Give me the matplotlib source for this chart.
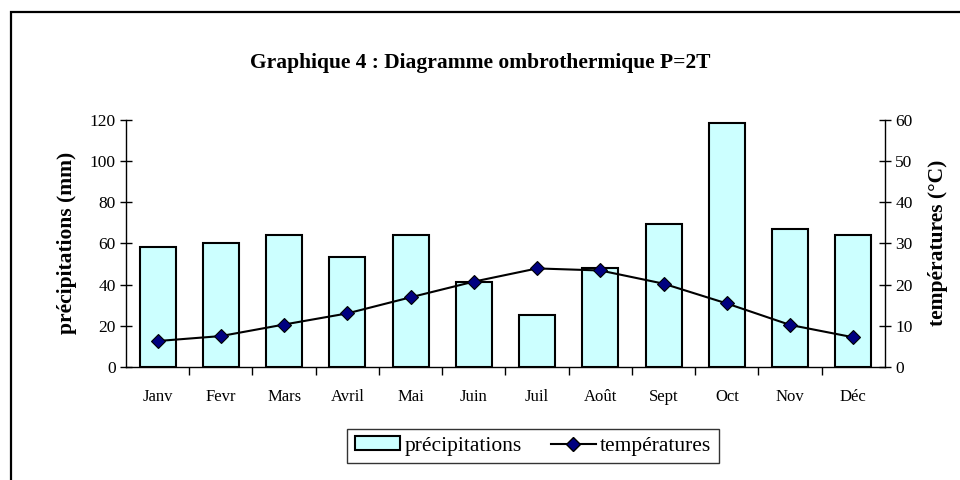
import numpy as np
import matplotlib
matplotlib.use("Agg")
import matplotlib.pyplot as plt
from matplotlib.lines import Line2D
from matplotlib.patches import Rectangle

plt.rcParams["font.family"] = ["Liberation Serif", "DejaVu Serif"]

MONTHS = ["Janv", "Fevr", "Mars", "Avril", "Mai", "Juin",
          "Juil", "Août", "Sept", "Oct", "Nov", "Déc"]
PRECIP = [58, 60, 64, 53.5, 64, 41, 25, 48, 69.5, 118.5, 67, 64]
TEMP = [6.3, 7.5, 10.3, 13.0, 16.9, 20.7, 23.9, 23.4, 20.2, 15.4, 10.2, 7.2]

fig = plt.figure(figsize=(9.6, 4.8), dpi=100, facecolor="white")

# cadre extérieur (haut + gauche visibles)
fig.add_artist(Rectangle((11 / 960, -0.1), 1.2, 1 - 12 / 480 + 0.1,
                         transform=fig.transFigure, fill=False,
                         edgecolor="black", linewidth=1.6))

ax = fig.add_axes([0.13125, 0.2354, 0.7906, 0.5156])
x = np.arange(len(MONTHS))
ax.bar(x, PRECIP, width=0.57, color="#CCFFFF", edgecolor="black",
       linewidth=1.5, zorder=2)
ax.set_xlim(-0.5, len(MONTHS) - 0.5)
ax.set_ylim(0, 120)
ax.set_yticks(range(0, 121, 20))
ax.set_xticks(x)
ax.set_xticklabels(MONTHS, fontsize=12)
ax.set_xticks(np.arange(0.5, len(MONTHS) - 0.5, 1), minor=True)
ax.tick_params(axis="x", which="major", length=0, pad=16)
ax.tick_params(axis="x", which="minor", length=6, direction="out", width=1)
ax.tick_params(axis="y", direction="inout", length=8, width=1, labelsize=12.5)
ax.spines["top"].set_visible(False)
ax.spines["right"].set_visible(False)
for sp in ("left", "bottom"):
    ax.spines[sp].set_linewidth(1)
ax.set_ylabel("précipitations (mm)", fontsize=15.5, fontweight="bold", labelpad=9)

ax2 = ax.twinx()
ax2.plot(x, TEMP, color="black", linewidth=1.5, marker="D", markersize=7,
         markerfacecolor="#000080", markeredgecolor="black", markeredgewidth=0.8,
         zorder=3)
ax2.set_ylim(0, 60)
ax2.set_yticks(range(0, 61, 10))
ax2.tick_params(axis="y", direction="inout", length=8, width=1, labelsize=12.5)
ax2.spines["top"].set_visible(False)
ax2.spines["left"].set_visible(False)
ax2.spines["bottom"].set_visible(False)
ax2.spines["right"].set_linewidth(1)
ax2.set_ylabel("températures (°C)", fontsize=15.5, fontweight="bold", labelpad=11)

fig.text(0.5, 1 - 63 / 480, "Graphique 4 : Diagramme ombrothermique P=2T",
         ha="center", va="center", fontsize=15.5, fontweight="bold")

handles = [Rectangle((0, 0), 1, 1, facecolor="#CCFFFF", edgecolor="black", linewidth=1.5),
           Line2D([], [], color="black", linewidth=1.5, marker="D", markersize=7,
                  markerfacecolor="#000080", markeredgecolor="black")]
leg = fig.legend(handles, ["précipitations", "températures"], ncol=2,
                 loc="center", bbox_to_anchor=(533 / 960, 1 - 446 / 480),
                 fontsize=15.5, frameon=True, fancybox=False, edgecolor="black",
                 handlelength=2.1, handleheight=0.6, handletextpad=0.2,
                 columnspacing=1.35, borderpad=0.35)
leg.get_frame().set_linewidth(1)

fig.savefig("out.png", dpi=100, facecolor="white")
